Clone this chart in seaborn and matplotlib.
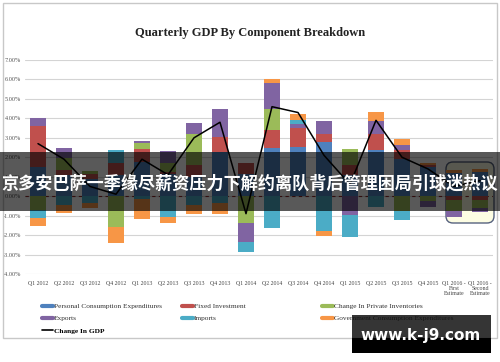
import numpy as np
import matplotlib
matplotlib.use("Agg")
import matplotlib.pyplot as plt
import seaborn as sns
from matplotlib.patches import Rectangle, FancyBboxPatch
from matplotlib.lines import Line2D

# quarters on the x axis
quarters = ["Q1 2012", "Q2 2012", "Q3 2012", "Q4 2012",
            "Q1 2013", "Q2 2013", "Q3 2013", "Q4 2013",
            "Q1 2014", "Q2 2014", "Q3 2014", "Q4 2014",
            "Q1 2015", "Q2 2015", "Q3 2015", "Q4 2015",
            "Q1 2016 -\nFirst\nEstimate", "Q1 2016 -\nSecond\nEstimate"]

# contributions to GDP growth (percentage points)
pce = [1.5, 1.1, 0.9, 1.1, 1.75, 1.15, 1.0, 2.27, 1.15, 2.5, 2.51, 2.79, 1.08, 2.36, 1.93, 1.5, 1.17, 1.25]
fixed_inv = [2.1, 0.25, 0.25, 0.6, 0.7, 0.1, 0.6, 0.77, 0.53, 0.88, 0.97, 0.38, 0.51, 0.82, 0.43, 0.08, -0.2, -0.2]
inventories = [-0.7, 0.6, 0.15, -1.6, 0.3, 0.45, 1.57, 0.0, -1.4, 1.12, 0.0, 0.0, 0.85, 0.0, -0.75, -0.25, -0.55, -0.4]
exports = [0.4, 0.55, 0.0, 0.0, 0.1, 0.6, 0.58, 1.46, -0.95, 1.31, 0.25, 0.69, -0.95, 0.67, 0.26, -0.3, -0.3, -0.2]
imports = [-0.4, -0.45, -0.35, 0.65, -0.15, -1.05, -0.45, -0.35, -0.52, -1.65, 0.2, -1.8, -1.15, -0.55, -0.45, 0.0, 0.0, 0.0]
government = [-0.45, -0.4, -0.25, -0.8, -1.0, -0.35, -0.47, -0.57, 0.0, 0.23, 0.31, -0.27, 0.0, 0.48, 0.34, 0.1, 0.2, 0.17]
gdp = [2.7, 1.9, 0.5, 0.1, 1.9, 1.1, 3.0, 3.8, -0.9, 4.6, 4.3, 2.1, 0.6, 3.9, 2.0, 1.4, 0.5, 0.8]

series_names = ["Personal Consumption Expenditures", "Fixed Investment",
                "Change In Private Inventories", "Exports", "Imports",
                "Government Consumption Expenditures"]
series_vals = [pce, fixed_inv, inventories, exports, imports, government]
series_cols = ["#4F81BD", "#C0504D", "#9BBB59", "#8064A2", "#4BACC6", "#F79646"]

sns.set_theme(style="white")
plt.rcParams["font.family"] = ["Liberation Serif", "DejaVu Sans"]

fig = plt.figure(figsize=(5, 3.62), dpi=100)
ax = fig.add_axes([0.05, 0.2431, 0.936, 0.5912])
ax.patch.set_alpha(0)

x = np.arange(len(quarters))

# highlight box round the Q1 2016 estimates
box = FancyBboxPatch((4.46, 1.39), 0.48, 0.61, boxstyle="round,pad=0,rounding_size=0.07",
                     transform=fig.dpi_scale_trans, facecolor="#fdfde3",
                     edgecolor="#56627e", lw=1, zorder=2.2, clip_on=False)
ax.add_patch(box)

# stacked bars: positives up from zero, negatives down from zero
pos_base = np.zeros(len(x))
neg_base = np.zeros(len(x))
for vals, col in zip(series_vals, series_cols):
    v = np.array(vals)
    pos = np.where(v > 0, v, 0)
    neg = np.where(v < 0, v, 0)
    ax.bar(x, pos, bottom=pos_base, width=0.58, color=col, linewidth=0, zorder=3)
    ax.bar(x, neg, bottom=neg_base, width=0.58, color=col, linewidth=0, zorder=3)
    pos_base += pos
    neg_base += neg

ax.axhline(0, color="#8c2a2a", lw=0.8, ls=(0, (3, 3)), zorder=2.5)
sns.lineplot(x=x, y=gdp, ax=ax, color="black", lw=1.1, zorder=5)

ax.set_xlim(-0.5, len(x) - 0.5)
ax.set_ylim(-4, 7)
yt = np.arange(-4, 8)
ax.set_yticks(yt)
ax.set_yticklabels([f"{v:.2f}%" for v in yt], fontsize=4.5, color="#555555")
ax.set_xticks(x)
ax.set_xticklabels(quarters, fontsize=4.2, color="#444444", linespacing=0.95)
ax.tick_params(axis="x", length=0, pad=5)
ax.tick_params(axis="y", length=0, pad=3)
ax.yaxis.grid(True, color="#d4d4d4", lw=0.8)
ax.set_axisbelow(True)
for s in ax.spines.values():
    s.set_visible(False)
ax.set_xlabel("")
ax.set_ylabel("")

fig.text(0.5, 0.91, "Quarterly GDP By Component Breakdown", fontsize=9,
         fontweight="bold", ha="center", va="center", color="#222222")

# legend laid out in three columns, row by row
handles = [Line2D([0], [0], color=c, lw=3) for c in series_cols]
gdp_handle = Line2D([0], [0], color="black", lw=1.2)
cols = [([handles[0], handles[3], gdp_handle], [series_names[0], series_names[3], "Change In GDP"], 0.084),
        ([handles[1], handles[4]], [series_names[1], series_names[4]], 0.364),
        ([handles[2], handles[5]], [series_names[2], series_names[5]], 0.644)]
for hs, labs, xpos in cols:
    leg = fig.legend(hs, labs, loc="upper left", bbox_to_anchor=(xpos, 0.163),
                     frameon=False, fontsize=5.3, handlelength=1.5, handletextpad=0.1,
                     labelspacing=0.82, borderpad=0, borderaxespad=0)
    for t in leg.get_texts():
        t.set_color("#333333")
        if t.get_text() == "Change In GDP":
            t.set_fontweight("bold")
            t.set_color("black")

# outer chart border
fig.add_artist(Rectangle((0.006, 0.066), 0.988, 0.926, transform=fig.transFigure,
                         fill=False, edgecolor="#c8c8c8", lw=1, zorder=1))

# headline banner across the chart
fig.add_artist(Rectangle((0, 0.4171), 1, 0.163, transform=fig.transFigure,
                         facecolor="black", alpha=0.65, lw=0, zorder=10))
fig.text(0.5, 0.492, "京多安巴萨一季缘尽薪资压力下解约离队背后管理困局引球迷热议",
         fontsize=12.3, fontweight="bold", color="white", ha="center", va="center",
         family=["Noto Sans CJK SC", "DejaVu Sans"], zorder=11)

# watermark
fig.add_artist(Rectangle((0.704, 0.0249), 0.278, 0.105, transform=fig.transFigure,
                         facecolor="#111111", alpha=0.85, lw=0, zorder=12))
fig.add_artist(Rectangle((0.704, 0.0249), 0.278, 0.0414, transform=fig.transFigure,
                         facecolor="black", lw=0, zorder=12))
fig.text(0.842, 0.072, "www.k-j9.com", fontsize=11, fontweight="bold", color="white",
         ha="center", va="center", family=["DejaVu Sans"], zorder=13)

fig.savefig("out.png", dpi=100)
